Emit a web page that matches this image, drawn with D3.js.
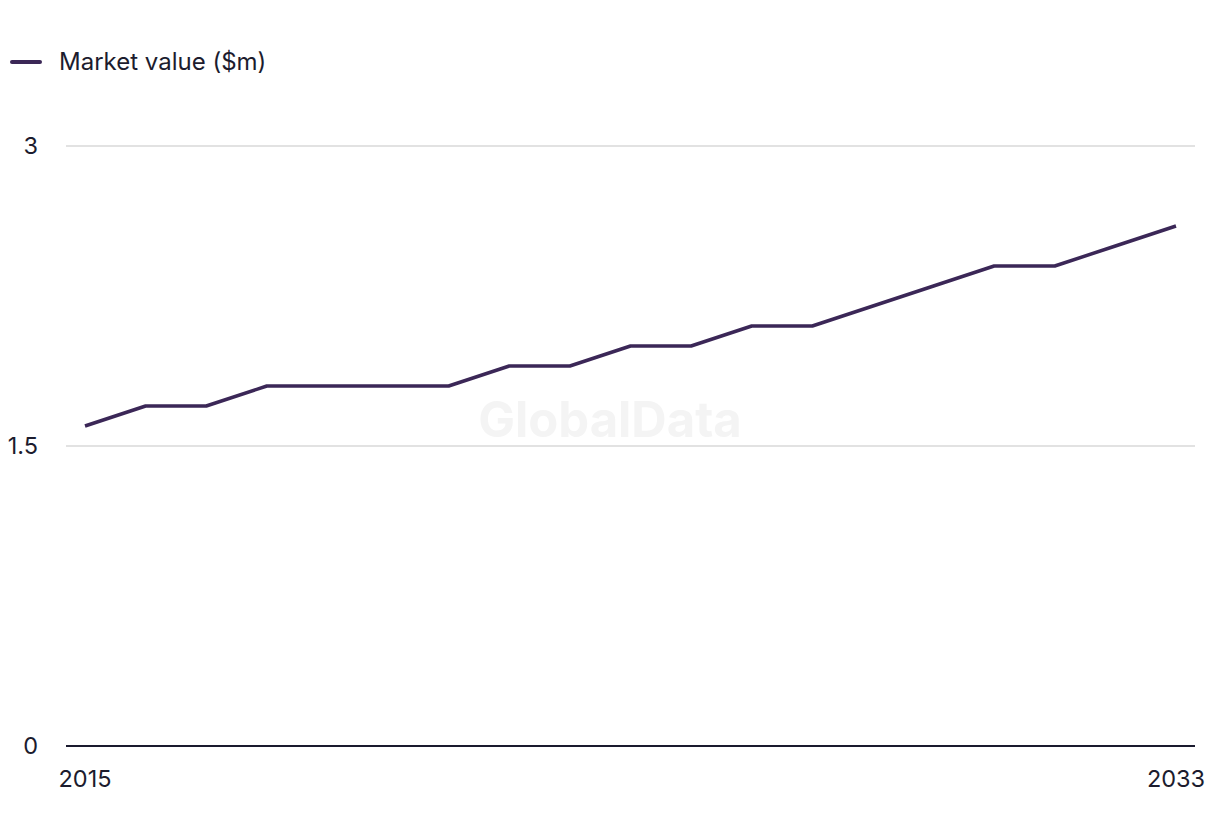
<!DOCTYPE html>
<html>
<head>
<meta charset="utf-8">
<script src="https://cdn.jsdelivr.net/npm/d3@7"></script>
<style>
  html, body { margin: 0; padding: 0; background: #fff; }
  svg { display: block; }
  text { font-family: Inter, "Noto Sans", sans-serif; fill: #1c1c2e; }
</style>
</head>
<body>
<svg id="chart" width="1220" height="836"></svg>
<script>
const years = [2015,2016,2017,2018,2019,2020,2021,2022,2023,2024,2025,2026,2027,2028,2029,2030,2031,2032,2033];
const marketValue = [1.6,1.7,1.7,1.8,1.8,1.8,1.8,1.9,1.9,2.0,2.0,2.1,2.1,2.2,2.3,2.4,2.4,2.5,2.6];
const yTicks = [0, 1.5, 3];
const yTickLabels = ["0", "1.5", "3"];
const xTickLabels = ["2015", "2033"];
const seriesName = "Market value ($m)";

const svg = d3.select("#chart");
const lineColor = "#3b2757";

const x = d3.scaleLinear().domain([2015, 2033]).range([85, 1176]);
const y = d3.scaleLinear().domain([0, 3]).range([746, 146]);

// watermark
svg.append("text")
  .attr("x", 610).attr("y", 437)
  .attr("text-anchor", "middle")
  .style("font-size", "49px").style("font-weight", "700")
  .style("fill", "#f4f4f4")
  .text("GlobalData");

// gridlines
svg.append("g").selectAll("line")
  .data(yTicks.filter(d => d !== 0))
  .join("line")
  .attr("x1", 66).attr("x2", 1195)
  .attr("y1", d => y(d)).attr("y2", d => y(d))
  .attr("stroke", "#d9d9d9").attr("stroke-width", 1.5);

// y labels
svg.append("g").selectAll("text")
  .data(yTicks)
  .join("text")
  .attr("x", 38).attr("y", d => y(d) + 8)
  .attr("text-anchor", "end")
  .style("font-size", "23.5px")
  .text((d, i) => yTickLabels[i]);

// baseline axis
svg.append("line")
  .attr("x1", 66).attr("x2", 1195)
  .attr("y1", y(0)).attr("y2", y(0))
  .attr("stroke", "#1a1a2e").attr("stroke-width", 2);

// x labels
svg.append("g").selectAll("text")
  .data(xTickLabels)
  .join("text")
  .attr("x", d => x(+d)).attr("y", 787)
  .attr("text-anchor", "middle")
  .style("font-size", "23.5px")
  .text(d => d);

// line
const line = d3.line().x((d, i) => x(years[i])).y(d => y(d));
svg.append("path")
  .datum(marketValue)
  .attr("d", line)
  .attr("fill", "none")
  .attr("stroke", lineColor)
  .attr("stroke-width", 3.5)
  .attr("stroke-linejoin", "round");

// legend
svg.append("line")
  .attr("x1", 12).attr("x2", 40).attr("y1", 62).attr("y2", 62)
  .attr("stroke", lineColor).attr("stroke-width", 4)
  .attr("stroke-linecap", "round");
svg.append("text")
  .attr("x", 59).attr("y", 70)
  .style("font-size", "24px")
  .text(seriesName);
</script>
</body>
</html>
